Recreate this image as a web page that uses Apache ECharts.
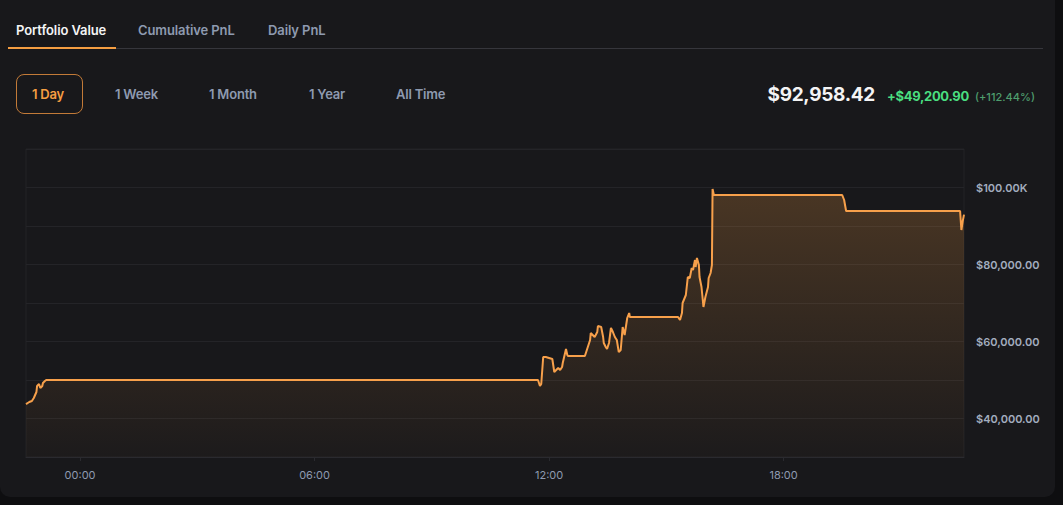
<!DOCTYPE html>
<html>
<head>
<meta charset="utf-8">
<script src="https://cdn.jsdelivr.net/npm/echarts@6/dist/echarts.min.js"></script>
<style>
  html, body { margin:0; padding:0; width:1063px; height:505px; background:#0e0e10; overflow:hidden; font-family: Inter, "Noto Sans", sans-serif; }
  #card { position:absolute; left:0; top:0; width:1055px; height:497px; background:#18181b; border-radius:0 0 10px 10px; }
  #chart { position:absolute; left:0; top:0; width:1055px; height:497px; }
  .tab { position:absolute; top:22px; font-size:13px; font-weight:600; color:#8e9ab0; white-space:nowrap; letter-spacing:-0.1px; }
  .tab.active { color:#f4f4f5; }
  #tabline { position:absolute; left:8px; top:48px; width:1035px; height:1px; background:#36363c; }
  #tabsel { position:absolute; left:8px; top:47px; width:108px; height:2px; background:#f59e42; }
  .btn { position:absolute; top:86px; font-size:13px; font-weight:600; color:#8e9ab0; white-space:nowrap; letter-spacing:-0.2px; }
  #daybox { position:absolute; left:16px; top:74px; width:65px; height:38px; border:1px solid #c27a38; border-radius:8px; }
  .btn.active { color:#f59e42; }
  #right { position:absolute; right:28px; top:83px; display:flex; align-items:baseline; white-space:nowrap; }
  #val { font-size:19px; font-weight:700; color:#f4f4f5; letter-spacing:-0.3px; }
  #chg { font-size:13px; font-weight:700; color:#4ade80; margin-left:12px; letter-spacing:-0.3px; }
  #pct { font-size:11px; font-weight:500; color:#4f9d6d; margin-left:6px; }
</style>
</head>
<body>
<div id="card"></div>
<div id="chart"></div>
<div class="tab active" style="left:16px">Portfolio Value</div>
<div class="tab" style="left:138px">Cumulative PnL</div>
<div class="tab" style="left:268px">Daily PnL</div>
<div id="tabline"></div>
<div id="tabsel"></div>
<div id="daybox"></div>
<div class="btn active" style="left:32px">1 Day</div>
<div class="btn" style="left:115px">1 Week</div>
<div class="btn" style="left:209px">1 Month</div>
<div class="btn" style="left:309px">1 Year</div>
<div class="btn" style="left:396px">All Time</div>
<div id="right"><span id="val">$92,958.42</span><span id="chg">+$49,200.90</span><span id="pct">(+112.44%)</span></div>
<script>
const times = [
  '2024-01-14 22:37','2024-01-14 22:42','2024-01-14 22:46','2024-01-14 22:49','2024-01-14 22:53','2024-01-14 22:54',
  '2024-01-14 22:57','2024-01-14 22:59','2024-01-14 23:02','2024-01-14 23:03','2024-01-14 23:06','2024-01-14 23:08',
  '2024-01-15 11:43','2024-01-15 11:46','2024-01-15 11:48','2024-01-15 11:51','2024-01-15 11:55','2024-01-15 12:05',
  '2024-01-15 12:08','2024-01-15 12:11','2024-01-15 12:14','2024-01-15 12:17','2024-01-15 12:20','2024-01-15 12:21',
  '2024-01-15 12:26','2024-01-15 12:28','2024-01-15 12:29','2024-01-15 12:55','2024-01-15 12:58','2024-01-15 13:03',
  '2024-01-15 13:04','2024-01-15 13:07','2024-01-15 13:10','2024-01-15 13:14','2024-01-15 13:15','2024-01-15 13:20',
  '2024-01-15 13:23','2024-01-15 13:24','2024-01-15 13:27','2024-01-15 13:29','2024-01-15 13:32','2024-01-15 13:35',
  '2024-01-15 13:38','2024-01-15 13:41','2024-01-15 13:44','2024-01-15 13:47','2024-01-15 13:50','2024-01-15 13:53',
  '2024-01-15 13:56','2024-01-15 14:00','2024-01-15 14:03','2024-01-15 14:04','2024-01-15 15:18','2024-01-15 15:21',
  '2024-01-15 15:24','2024-01-15 15:25','2024-01-15 15:30','2024-01-15 15:33','2024-01-15 15:36','2024-01-15 15:39',
  '2024-01-15 15:41','2024-01-15 15:44','2024-01-15 15:45','2024-01-15 15:47','2024-01-15 15:50','2024-01-15 15:51',
  '2024-01-15 15:54','2024-01-15 15:56','2024-01-15 15:57','2024-01-15 16:00','2024-01-15 16:04','2024-01-15 16:05',
  '2024-01-15 16:08','2024-01-15 16:10','2024-01-15 16:11','2024-01-15 16:13','2024-01-15 19:30','2024-01-15 19:33',
  '2024-01-15 19:36','2024-01-15 22:31','2024-01-15 22:33','2024-01-15 22:35','2024-01-15 22:37'
];
const values = [
  43757.52,44286,44545,45325,46883,48442,
  48961,47922,48442,49221,49740,50000,
  50000,48442,48961,55974,55974,55455,
  52078,52597,53117,52597,53377,54416,
  58052,56494,56234,56234,57792,60390,
  62208,61688,61169,62468,64026,63766,
  61169,59610,58571,58052,59610,63507,
  62468,61169,60390,57273,57792,63766,
  61688,66104,67403,66364,66364,65585,
  67403,70000,72078,76753,76494,79091,
  78571,81169,79351,81688,79870,76753,
  74156,70779,68961,71558,74156,76494,
  77792,79870,99610,98052,98052,96753,
  93896,93896,88961,91200,92958.42
];
const xTickLabels = ['2024-01-15 00:00', '2024-01-15 06:00', '2024-01-15 12:00', '2024-01-15 18:00'];
const yTicks = [40000, 60000, 80000, 100000];

function fmtY(v) {
  if (yTicks.indexOf(v) < 0) return '';
  if (v >= 100000) return '$' + (v / 1000).toFixed(2) + 'K';
  return '$' + v.toLocaleString('en-US', {minimumFractionDigits: 2, maximumFractionDigits: 2});
}
function toTs(s) {
  const p = s.split(/[- :]/).map(Number);
  return new Date(p[0], p[1] - 1, p[2], p[3], p[4]).getTime();
}
function pad(n) { return (n < 10 ? '0' : '') + n; }

const data = times.map((t, i) => [toTs(t), values[i]]);
const xTicks = xTickLabels.map(toTs);
const chart = echarts.init(document.getElementById('chart'), null, {renderer: 'svg'});
chart.setOption({
  animation: false,
  grid: { left: 26, top: 149, width: 938, height: 308, show: true, borderColor: '#222226', borderWidth: 1 },
  xAxis: {
    type: 'value',
    min: data[0][0], max: data[data.length - 1][0],
    axisLine: { show: true, lineStyle: { color: '#2a2a2f' } },
    axisTick: { show: true, length: 4, customValues: xTicks, lineStyle: { color: '#2a2a2f' } },
    splitLine: { show: false },
    axisLabel: {
      customValues: xTicks,
      formatter: function (v) { const d = new Date(v); return pad(d.getHours()) + ':' + pad(d.getMinutes()); },
      color: '#8e9ab0', fontSize: 11, margin: 12, fontFamily: 'Inter'
    }
  },
  yAxis: {
    type: 'value', position: 'right',
    min: 30000, max: 110000, interval: 10000,
    axisLine: { show: false }, axisTick: { show: false },
    splitLine: { lineStyle: { color: '#242428', width: 1 } },
    axisLabel: { formatter: fmtY, color: '#a3adbf', fontSize: 11, fontWeight: 600, margin: 12, fontFamily: 'Inter' }
  },
  series: [{
    type: 'line', data: data, showSymbol: false, symbol: 'none',
    lineStyle: { color: '#f7a04b', width: 2 },
    areaStyle: {
      color: new echarts.graphic.LinearGradient(0, 0, 0, 1, [
        { offset: 0, color: 'rgba(245,158,66,0.32)' },
        { offset: 1, color: 'rgba(245,158,66,0.03)' }
      ])
    }
  }]
});
</script>
</body>
</html>
